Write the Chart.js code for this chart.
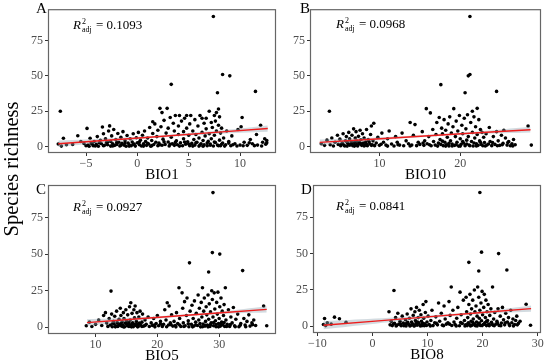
<!DOCTYPE html>
<html><head><meta charset="utf-8">
<script src="https://cdn.jsdelivr.net/npm/chart.js@4.4.1/dist/chart.umd.min.js"></script>
<style>
html,body{margin:0;padding:0;background:#fff;}
#wrap{position:relative;width:550px;height:363px;overflow:hidden;font-family:"Liberation Serif","Times New Roman",serif;color:#000;}
canvas{position:absolute;left:0;top:0;}
.lab{position:absolute;font-size:15px;line-height:1;}
.r2{position:absolute;font-size:13px;line-height:1;white-space:nowrap;}
.r2 i{font-style:italic;}
.ss{display:inline-block;position:relative;width:15px;height:0;vertical-align:baseline;}
.s2{position:absolute;left:1px;top:-11px;font-size:8px;line-height:1;}
.sadj{position:absolute;left:1px;top:-3px;font-size:8px;line-height:1;}
#ytitle{position:absolute;left:11px;top:169px;transform:translate(-50%,-50%) rotate(-90deg);font-size:20.5px;line-height:1;white-space:nowrap;}
</style></head><body>
<div id="wrap">
<canvas id="cA" width="550" height="363"></canvas>
<canvas id="cB" width="550" height="363"></canvas>
<canvas id="cC" width="550" height="363"></canvas>
<canvas id="cD" width="550" height="363"></canvas>
<div id="ytitle">Species richness</div>
<div class="lab" style="left:36px;top:1px">A</div>
<div class="lab" style="left:300px;top:1px">B</div>
<div class="lab" style="left:36px;top:182px">C</div>
<div class="lab" style="left:301px;top:182px">D</div>
<div class="r2" style="left:73px;top:18px"><i>R</i><span class="ss"><span class="s2">2</span><span class="sadj">adj</span></span>= 0.1093</div>
<div class="r2" style="left:336px;top:17px"><i>R</i><span class="ss"><span class="s2">2</span><span class="sadj">adj</span></span>= 0.0968</div>
<div class="r2" style="left:73px;top:200px"><i>R</i><span class="ss"><span class="s2">2</span><span class="sadj">adj</span></span>= 0.0927</div>
<div class="r2" style="left:336px;top:199px"><i>R</i><span class="ss"><span class="s2">2</span><span class="sadj">adj</span></span>= 0.0841</div>
</div>
<script>
// ---------- data ----------
const yTicks = [0, 25, 50, 75];
const yRange = [-4.6, 97.2];

// Panel A: BIO1
const bio1Ticks = [-5, 0, 5, 10];
const bio1Points = [[-7.7,1.8],[-7.5,25],[-7.4,0.3],[-7.2,5.8],[-6.9,1.2],[-6.3,1.5],[-5.8,7.6],[-5.5,3.5],[-5.2,2.2],[-5.0,0.5],
[-4.9,12.8],[-4.8,1],[-4.6,5.8],[-4.5,2.4],[-4.3,0.6],[-4.2,3.5],[-4.0,1.5],[-3.9,7],[-3.8,0.2],[-3.6,4.4],[-3.5,2],[-3.4,13.8],[-3.3,9],[-3.2,0.8],[-3.1,5.5],[-3.0,2.8],[-2.9,1.2],[-2.8,11],[-2.7,14.6],[-2.6,0.3],[-2.6,3.6],[-2.5,7.5],
[-2.4,2],[-2.3,12],[-2.2,0.8],[-2.1,5],[-2.0,1.5],[-1.9,9.2],[-1.8,3],[-1.7,0.4],[-1.6,6.5],[-1.5,2.2],[-1.4,10.5],[-1.3,1],[-1.2,4],[-1.1,0.2],[-1.0,7.8],[-0.9,2.5],[-0.8,1.2],[-0.7,5.5],[-0.6,0.5],[-0.5,3.2],[-0.4,9],[-0.3,1.8],[-0.2,0.3],[-0.1,6.2],[0.0,2.6],
[0.1,10],[0.2,1.2],[0.3,4.5],[0.4,0.4],[0.5,8],[0.6,2],[0.7,11],[0.8,3.5],[0.9,0.8],[1.0,6],[1.1,1.8],[1.2,13.5],[1.3,0.2],[1.4,4.2],[1.5,17.5],[1.5,9.2],[1.6,1.4],[1.7,16],[1.8,3],[1.9,7],[2.0,0.6],[2.0,11.5],
[2.1,2.4],[2.2,27],[2.3,14],[2.4,24],[2.4,0.9],[2.5,5.2],[2.6,18.5],[2.7,1.5],[2.8,9.5],[2.9,27],[3.0,3.2],[3.0,13],[3.1,0.4],[3.2,20.5],[3.3,44],[3.3,6.5],[3.4,2],[3.5,16.5],[3.6,0.8],[3.6,11],[3.7,22],[3.8,4],[3.9,1.2],[4.0,14.5],[4.0,8.5],[4.1,22],[4.2,2.6],[4.3,18],[4.4,0.5],[4.5,10.5],[4.5,5.5],[4.6,20],[4.7,1.6],[4.8,13],[4.8,22],[4.9,3.4],[5.0,8],
[5.1,0.6],[5.1,16],[5.2,22],[5.3,2.2],[5.4,11],[5.5,5],[5.6,1],[5.6,19],[5.7,8.5],[5.8,3],[5.9,14.5],[6.0,0.3],[6.0,6],[6.1,22],[6.2,2],[6.3,10],[6.3,20],[6.4,4.2],[6.5,1.2],[6.5,16.5],[6.6,7.5],[6.7,20],[6.7,12.5],[6.8,0.5],[6.9,3.6],[7.0,25],[7.0,9],[7.1,1.8],[7.2,17],[7.2,5.5],[7.3,13.5],[7.4,92],[7.4,0.4],[7.5,22],[7.5,8],[7.6,2.8],[7.6,18],[7.7,24],[7.7,11],[7.8,38],[7.8,1],[7.9,15],[7.9,26.5],[8.0,4.5],[8.0,21],
[8.1,0.6],[8.1,9.5],[8.2,13],[8.3,51],[8.3,2.5],[8.4,6],[8.6,1.2],[8.7,11],[8.9,3.5],[9.0,50],[9.1,0.5],[9.2,7.5],[9.5,2],[9.8,12],[10.0,1],[10.1,14],[10.2,20.5],[10.4,3],[10.7,0.8],[11.0,5],[11.2,2],[11.5,39],[11.6,8.5],[11.7,1],[12.0,15],[12.2,3],[12.4,5.5],[12.5,1.6],[12.6,4.2],
[-4.7,0.2],[-4.4,1.8],[-4.1,0.4],[-3.7,2.6],[-3.3,0.5],[-2.9,3.2],[-2.4,0.4],[-2.0,2.9],[-1.6,0.9],[-1.2,2.4],[-0.8,0.3],[-0.4,1.4],[0.2,3.1],[0.6,0.3],[1.0,2.2],[1.4,0.6],[2.2,1.2],[2.6,3.4],[3.2,1.6],[3.7,2.9],[4.1,0.3],[4.6,3.2],[5.0,1.8],[5.4,0.3],[5.7,2.6],[6.1,1.1],[6.4,0.2],[6.8,2.4],[7.1,0.9],[7.5,3.1],[7.9,0.5],[8.2,1.6],[8.5,0.3],[8.9,2.4],[9.3,1.2],[9.7,0.4],[10.3,0.5],[10.9,2.6],[11.4,0.6],[12.1,0.4],[12.6,2.6]];
const bio1FitX = [-7.7, -2.6, 2.5, 7.6, 12.7];
const bio1FitY = [1.9, 4.6, 7.3, 10.0, 12.7];
const bio1Lo = [-0.4, 3.3, 6.6, 8.9, 10.5];
const bio1Hi = [4.2, 5.9, 8.0, 11.1, 14.9];

// Panel B: BIO10
const bio10Ticks = [10, 20];
const bio10Points = [[2.8,2],[3.2,0.8],[3.5,4.5],[3.8,25],[3.9,1.2],[4.1,6],[4.3,0.4],[4.5,3],[4.8,8],[4.9,1.5],
[5.1,5.2],[5.2,0.5],[5.4,2.5],[5.5,9],[5.6,1],[5.8,4],[5.9,7],[6.0,0.3],[6.1,2.2],[6.2,10],[6.3,5.5],[6.4,1.2],[6.5,3.5],[6.6,8],[6.7,0.6],[6.8,12.5],[6.9,2.8],[7.0,6],[7.0,1],[7.1,10.5],[7.2,3.8],[7.3,0.4],[7.4,7.2],[7.5,1.8],[7.6,11.5],[7.7,4.8],[7.8,0.8],[7.9,9],[8.0,2.4],[8.1,6],[8.2,1],[8.3,3.2],[8.4,12],[8.5,0.5],[8.6,5],[8.8,2],[8.9,8.5],[9.0,14.5],[9.1,1.2],[9.2,4],[9.3,16.5],[9.4,0.6],
[9.6,2.5],[9.8,6.5],[10.0,0.8],[10.3,9.5],[10.5,3],[10.8,1],[11.0,5.5],[11.2,11],[11.5,1.8],[11.8,0.4],[12.0,7],[12.2,3],[12.5,1],[12.8,9.5],[13.0,0.5],[13.3,4],[13.6,2],[13.8,17],[14.0,1],[14.2,8],[14.4,15.5],[14.6,0.6],[14.8,3],[15.0,1.5],
[15.3,10.5],[15.5,0.8],[15.6,4],[15.8,26.8],[15.9,2],[16.1,7],[16.3,23.8],[16.4,0.5],[16.6,12],[16.7,3.5],[16.9,1],[17.0,8.5],[17.1,17],[17.2,0.3],[17.4,20.5],[17.5,5],[17.6,43.8],[17.6,1.5],[17.7,13],[17.8,9],[17.9,0.6],[18.0,19],[18.1,3],[18.2,11.5],[18.3,1.2],[18.4,6.5],[18.5,16],[18.6,0.4],[18.7,21],[18.8,4],[18.9,9.5],[19.0,1.8],
[19.1,14],[19.2,26.8],[19.3,0.8],[19.4,7],[19.5,18],[19.6,3],[19.7,11],[19.8,0.3],[19.9,22],[20.0,5.5],[20.1,1.5],[20.2,15],[20.3,9],[20.4,2.5],[20.5,20],[20.6,38],[20.6,0.6],[20.7,12.5],[20.8,4.5],[20.9,22.5],[21.0,7],[21.0,50],[21.1,1],[21.2,92],[21.2,51],[21.3,17],[21.4,3.5],[21.5,25],[21.5,10],[21.6,0.4],[21.7,21],[21.8,6],[21.9,14],[22.0,2],[22.1,27],[22.1,8.5],[22.2,0.8],[22.3,19],[22.4,4],[22.5,12],[22.6,1.5],[22.7,10],[22.8,0.5],[22.9,6.5],[23.0,2.8],[23.2,9],[23.3,1],
[23.6,13.5],[23.7,3.5],[23.9,0.6],[24.1,7],[24.3,1.5],[24.5,39],[24.5,10.5],[24.7,4],[24.9,0.8],[25.1,8],[25.3,2.2],[25.4,11.5],[25.6,6],[25.8,1],[26.0,3.5],[26.2,0.5],[26.4,2],[26.6,5],[26.8,1.2],
[28.4,14.5],[28.8,1],
[5.3,1.6],[5.7,0.4],[6.0,3],[6.3,1],[6.6,2],[6.9,0.3],[7.2,1.4],[7.5,3],[7.8,2],[8.1,0.4],[8.4,1.5],[8.7,3.5],[9.0,0.8],[10.2,1.6],[11.0,0.3],[12.3,1.2],[13.8,0.4],[15.4,2.5],[16.2,1.2],[17.3,2.4],[17.8,3.8],[18.2,0.3],[18.6,2.2],[19.0,0.4],[19.5,1.2],[20.0,0.3],[20.3,3.5],[20.8,1.8],[21.2,0.5],[21.7,2.5],[22.0,0.4],[22.5,3],[23.1,0.4],[23.5,1.8],[24.0,2.8],[24.6,0.5],[25.2,1.2],[25.9,2.8],[26.5,0.4]];
const bio10FitX = [2.6, 9.1, 15.6, 22.2, 28.7];
const bio10FitY = [2.9, 5.1, 7.4, 9.7, 11.9];
const bio10Lo = [0.8, 4.0, 6.7, 8.8, 9.9];
const bio10Hi = [5.0, 6.2, 8.1, 10.6, 13.9];

// Panel C: BIO5
const bio5Ticks = [10, 20, 30];
const bio5Points = [[8.5,1],[9.0,3.5],[9.4,0.5],[10.0,2],[10.5,5],[11.0,1.2],[11.3,8],[11.6,10],[11.8,3],[12.0,0.6],[12.2,6],
[12.4,1.5],[12.5,24.7],[12.6,9],[12.7,0.4],[12.9,4],[13.0,2.2],[13.1,7.5],[13.3,1],[13.4,11],[13.5,3.2],[13.6,0.5],[13.8,5.5],[13.9,2],[14.0,13],[14.1,8],[14.2,0.8],[14.3,3.8],[14.4,1.5],[14.5,10],[14.6,6],[14.7,0.3],[14.8,2.8],[14.9,12],[15.0,4.5],[15.1,1],[15.2,8.5],[15.3,2],[15.4,0.6],[15.5,14],[15.6,5],[15.7,16.8],[15.8,1.8],[15.9,9.5],[16.0,3],[16.1,0.4],[16.2,12],[16.3,6.5],[16.4,14.5],[16.5,1.2],[16.6,4],[16.7,10],[16.8,2.2],[16.9,0.5],[17.0,7],[17.2,11],[17.3,1.5],[17.5,3.5],[17.6,9],[17.8,0.8],[18.0,5],[18.2,2],
[18.5,7],[18.7,0.5],[19.0,3],[19.2,1.2],[19.4,6],[19.6,0.3],[19.8,2.5],[20.0,8],[20.2,1],[20.5,4],[20.8,0.6],[21.0,2],[21.2,12],[21.4,5],[21.6,16.8],[21.8,1.5],[21.9,14.5],[22.1,3],[22.3,8.5],[22.5,0.8],
[22.7,4],[22.9,1.2],[23.1,10],[23.3,2.5],[23.5,27],[23.6,6],[23.8,0.5],[24.0,23.5],[24.1,13],[24.2,3],[24.4,17.5],[24.5,1],[24.7,8],[24.8,20],[25.0,4.5],[25.1,0.4],[25.2,44],[25.3,11],[25.5,2],[25.6,15],[25.8,6],[25.9,0.8],[26.0,18],[26.2,3.5],[26.3,9.5],[26.5,1.2],[26.6,22],[26.7,5],[26.8,13],
[27.0,0.3],[27.1,17],[27.2,7],[27.3,27],[27.4,2.2],[27.5,11],[27.6,20],[27.7,0.8],[27.8,4],[27.9,14],[28.0,8.5],[28.1,1.5],[28.2,22],[28.3,37.8],[28.3,5.5],[28.4,16],[28.5,0.5],[28.6,10.5],[28.7,3],[28.8,25],[28.9,51],[28.9,19],[29.0,92],[29.0,7],[29.1,1],[29.2,23.5],[29.3,12.5],[29.4,4.5],[29.5,0.4],[29.6,17],[29.7,9],[29.8,24],[29.9,2.5],[30.0,6],[30.1,50],[30.1,14],[30.2,0.8],[30.3,20],[30.4,3.5],[30.5,11],[30.6,1.5],[30.7,8],[30.8,15.5],[30.9,0.5],[31.0,27],[31.1,5],
[31.3,2],[31.5,12],[31.7,0.6],[31.9,7],[32.1,3],[32.3,13.5],[32.5,1],[32.7,5.5],[33.0,9],[33.2,0.4],[33.5,2.5],[33.8,38.7],[34.0,6],[34.2,1.5],[34.5,4],[34.8,8.5],[35.0,0.8],[35.3,3],[35.6,5],[35.9,1.2],
[37.2,14.5],[37.7,1],
[12.8,2.8],[13.2,0.3],[13.7,1.2],[14.1,2.5],[14.5,0.3],[15.0,2.4],[15.4,3.2],[15.8,0.3],[16.3,2],[16.8,0.3],[17.1,2.8],[17.5,0.5],[18.0,1.2],[19.5,1.5],[20.5,2.2],[21.5,0.4],[22.2,1.8],[23.0,0.3],[23.6,1.6],[24.3,0.5],[25.0,2.4],[25.7,0.3],[26.2,1.5],[26.9,2.5],[27.3,0.4],[27.8,1.3],[28.2,0.3],[28.6,1.8],[29.1,3.2],[29.5,1.8],[29.9,0.3],[30.3,2.2],[30.8,3.2],[31.2,0.5],[31.8,1.8],[32.6,0.4],[33.4,1.3],[34.3,0.4],[35.4,1.8]];
const bio5FitX = [8.6, 15.9, 23.1, 30.4, 37.7];
const bio5FitY = [3.2, 5.45, 7.7, 9.95, 12.2];
const bio5Lo = [1.0, 4.3, 7.0, 9.1, 10.1];
const bio5Hi = [5.4, 6.6, 8.4, 10.8, 14.3];

// Panel D: BIO8
const bio8Ticks = [-10, 0, 10, 20, 30];
const bio8Points = [[-8.9,1.2],[-8.7,5.4],[-8.5,0.5],[-8.2,2.5],[-7.5,1.5],[-6.9,6.3],[-6.0,5.2],[-4.8,2.8],
[3.0,10],[3.2,1],[3.4,3.5],[3.6,0.5],[3.9,24.6],[4.0,2],[4.2,6],[4.4,0.8],[4.6,9],[4.8,1.5],[5.0,3.5],[5.2,0.4],[5.4,7],[5.6,2.2],[5.8,1],[6.0,4.5],[6.1,0.3],[6.3,8.5],[6.4,2.8],[6.6,1.2],[6.7,5.5],[6.9,0.6],[7.0,12],[7.1,3],[7.3,1.5],[7.4,7.5],[7.5,0.4],[7.7,10],[7.8,4],[7.9,2],[8.0,13],[8.1,0.8],[8.3,6],[8.4,2.5],[8.5,11],[8.6,1],[8.8,8],[8.9,3.5],[9.0,0.5],[9.2,15],[9.3,5.5],[9.5,1.8],[9.6,9.5],[9.7,17],[9.8,0.6],[9.9,3],
[10.1,7],[10.3,1.2],[10.6,4],[10.8,11],[11.0,0.5],[11.3,2.5],[11.5,6.5],[11.8,1],[12.0,16],[12.2,3.5],[12.5,9],[12.7,0.8],[13.0,14],[13.2,5],[13.4,1.5],[13.7,2.5],[13.9,17],
[14.1,7.5],[14.3,27],[14.4,0.6],[14.6,11],[14.8,3],[15.0,1.2],[15.3,5.5],[15.5,13],[15.8,0.4],[15.9,23.5],[16.1,8],[16.3,2],[16.5,18],[16.7,4],[16.9,1],
[17.0,20],[17.1,10],[17.2,0.5],[17.3,6],[17.4,2.5],[17.5,44],[17.5,15],[17.6,1.2],[17.7,22],[17.8,8.5],[17.9,3.5],[18.0,12],[18.1,0.8],[18.2,18],[18.3,5],[18.4,1.8],[18.5,25],[18.6,10],[18.7,0.4],[18.8,14],[18.9,3],[19.0,7],[19.1,27],[19.2,1.5],[19.3,38],[19.3,20],[19.4,5.5],[19.5,92],[19.5,11],[19.6,0.6],[19.7,16],[19.8,51],[19.8,3.8],[19.9,24],[20.0,8],[20.1,1.2],[20.2,13],[20.3,22],[20.4,2.5],[20.5,6],[20.6,18],[20.7,0.5],[20.8,10],[20.9,4],[21.0,15],[21.1,1.5],[21.3,7.5],[21.5,12],[21.6,2.8],[21.8,27],[21.9,0.8],
[22.0,5],[22.2,9.5],[22.4,1.5],[22.6,3.5],[22.8,12],[22.9,50],[23.0,0.6],[23.2,7],[23.4,2.2],[23.6,13],[23.8,4.5],[24.0,1],[24.2,9],[24.4,38.7],[24.5,3],[24.7,6],[24.9,0.5],[25.1,11],[25.3,2.5],[25.5,5],[25.8,1.2],[26.0,4],[26.2,7],[26.5,2],[26.8,3.5],
[27.9,15.2],[28.7,0.7],
[3.8,1.8],[4.3,0.3],[5.1,1.5],[5.7,0.4],[6.2,2],[6.8,0.3],[7.2,1.8],[7.6,0.3],[8.2,3],[8.7,0.3],[9.1,2],[9.4,0.4],[10.5,0.3],[11.6,2],[12.9,0.4],[14.0,1.5],[15.2,0.3],[16.0,2.6],[16.8,0.3],[17.3,1.6],[17.8,0.3],[18.2,2.8],[18.6,1.2],[19.0,0.3],[19.4,2.2],[19.9,0.5],[20.3,1.5],[20.7,3.2],[21.2,0.4],[21.7,1.5],[22.1,0.4],[22.7,2],[23.3,0.4],[24.1,2.4],[24.8,1.6],[25.6,0.3],[26.3,1]];
const bio8FitX = [-8.9, 0.5, 10.0, 19.4, 28.8];
const bio8FitY = [0.7, 3.57, 6.47, 9.34, 12.2];
const bio8Lo = [-2.0, 1.8, 5.5, 8.5, 10.0];
const bio8Hi = [3.4, 5.3, 7.4, 10.2, 14.4];

// ---------- drawing ----------
const FONT = '"Liberation Serif", "Times New Roman", serif';
const borderPlugin = {
  id: 'panelBorder',
  afterDraw(chart) {
    const a = chart.chartArea, ctx = chart.ctx;
    ctx.save();
    ctx.strokeStyle = '#666666';
    ctx.lineWidth = 1.2;
    ctx.strokeRect(a.left + 0.5, a.top + 0.5, a.right - a.left - 1, a.bottom - a.top - 1);
    ctx.restore();
  }
};
const toXY = (xs, ys) => xs.map((x, i) => ({x: x, y: ys[i]}));
const fmt = v => String(v).replace('-', '\u2212');

function panel(id, area, points, fx, fy, lo, hi, xRange, xTicks, xTitle) {
  const [L, T, R, B] = area;
  const yW = 30, xH = 31;
  new Chart(document.getElementById(id), {
    type: 'scatter',
    data: {
      datasets: [
        {type: 'line', data: toXY(fx, fy), borderColor: '#ee1c1c', borderWidth: 1.4, pointRadius: 0, fill: false, order: 0},
        {type: 'line', data: toXY(fx, lo), borderColor: 'rgba(0,0,0,0)', borderWidth: 0, pointRadius: 0, fill: false, tension: 0.4, order: 2},
        {type: 'line', data: toXY(fx, hi), borderColor: 'rgba(0,0,0,0)', borderWidth: 0, pointRadius: 0, fill: '-1', backgroundColor: 'rgba(150,170,180,0.42)', tension: 0.4, order: 1},
        {data: points.map(p => ({x: p[0], y: p[1]})), pointRadius: 1.8, pointBackgroundColor: '#000', pointBorderWidth: 0, backgroundColor: '#000', order: 3}
      ]
    },
    options: {
      responsive: false, animation: false, devicePixelRatio: 1,
      layout: {padding: {left: L - yW, top: T, right: 550 - R, bottom: 363 - B - xH}},
      plugins: {legend: {display: false}, tooltip: {enabled: false}},
      scales: {
        x: {
          type: 'linear', min: xRange[0], max: xRange[1],
          afterBuildTicks: s => { s.ticks = xTicks.map(v => ({value: v})); },
          afterFit: s => { s.height = xH; },
          grid: {display: true, drawOnChartArea: false, drawTicks: true, tickLength: 3, tickColor: '#333', color: '#333'},
          border: {display: false},
          ticks: {font: {family: FONT, size: 12}, color: '#4d4d4d', padding: 1, maxRotation: 0, autoSkip: false, callback: v => fmt(v)},
          title: {display: true, text: xTitle, font: {family: FONT, size: 15}, color: '#000', padding: 0}
        },
        y: {
          type: 'linear', min: yRange[0], max: yRange[1],
          afterBuildTicks: s => { s.ticks = yTicks.map(v => ({value: v})); },
          afterFit: s => { s.width = yW; },
          grid: {display: true, drawOnChartArea: false, drawTicks: true, tickLength: 3, tickColor: '#333', color: '#333'},
          border: {display: false},
          ticks: {font: {family: FONT, size: 12}, color: '#4d4d4d', padding: 2, autoSkip: false, callback: v => fmt(v)}
        }
      }
    },
    plugins: [borderPlugin]
  });
}

panel('cA', [48, 4, 276, 153], bio1Points, bio1FitX, bio1FitY, bio1Lo, bio1Hi, [-8.7, 13.5], bio1Ticks, 'BIO1');
panel('cB', [310, 4, 541, 153], bio10Points, bio10FitX, bio10FitY, bio10Lo, bio10Hi, [1.4, 30.0], bio10Ticks, 'BIO10');
panel('cC', [48, 185, 276, 334], bio5Points, bio5FitX, bio5FitY, bio5Lo, bio5Hi, [2.3, 39.2], bio5Ticks, 'BIO5');
panel('cD', [313, 185, 541, 333], bio8Points, bio8FitX, bio8FitY, bio8Lo, bio8Hi, [-10.8, 30.6], bio8Ticks, 'BIO8');
</script>
</body></html>
